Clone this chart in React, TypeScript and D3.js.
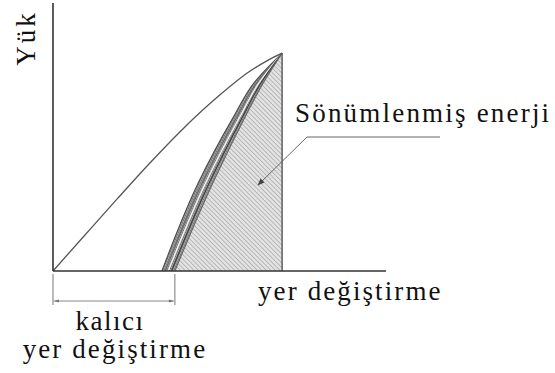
import React from "react";
import * as d3 from "d3";

// Loading branch: displacement vs. load
const loadingDisp = [0, 0.9, 1.92, 2.91, 3.9, 4.92, 5.92, 6.45, 6.88];
const loadingLoad = [0, 12.6, 26.8, 40.3, 53.0, 64.7, 74.6, 78.6, 81.3];

// Unloading / reloading cycles, sampled at shared load levels
const cycleLoads = [0, 32.8, 57.5, 70.1, 81.3];
const cycleA = [3.27, 4.36, 5.42, 6.03, 6.88];
const cycleB = [3.37, 4.48, 5.52, 6.11, 6.88];
const cycleC = [3.46, 4.58, 5.61, 6.18, 6.88];
const cycleD = [3.56, 4.69, 5.69, 6.24, 6.88];
const cycleE = [3.66, 4.8, 5.77, 6.31, 6.88];
const cycles = [cycleA, cycleB, cycleC, cycleD, cycleE];

const peakDisp = 6.88;
const peakLoad = 81.3;
const residualDisp = 3.66;
const axisMaxDisp = 10;
const axisMaxLoad = 100;

const yAxisLabel = "Yük";
const xAxisLabel = "yer değiştirme";
const energyLabel = "Sönümlenmiş enerji";
const residualLabel = ["kalıcı", "yer değiştirme"];

const FONT = "Liberation Serif";

function Label(props: {
  x?: number;
  y?: number;
  transform?: string;
  anchor?: "start" | "middle";
  spacing: number;
  children: string;
}) {
  return (
    <text
      x={props.x}
      y={props.y}
      transform={props.transform}
      textAnchor={props.anchor ?? "start"}
      fontFamily={FONT}
      fontSize={27}
      fill="#111"
      style={{ fontFamily: FONT, fontSize: "27px", letterSpacing: `${props.spacing}px` }}
    >
      {props.children}
    </text>
  );
}

export default function App() {
  const x = d3.scaleLinear().domain([0, axisMaxDisp]).range([53, 386]);
  const y = d3.scaleLinear().domain([0, axisMaxLoad]).range([271, 3]);

  const loadingLine = d3
    .line<number>()
    .x((_, i) => x(loadingDisp[i]))
    .y((d) => y(d))
    .curve(d3.curveMonotoneX)(loadingLoad) as string;

  const cycleLine = (disp: number[]) =>
    d3
      .line<number>()
      .x((_, i) => x(disp[i]))
      .y((d) => y(d))
      .curve(d3.curveMonotoneY)(cycleLoads) as string;

  const bandArea = d3
    .area<number>()
    .y((d) => y(d))
    .x0((_, i) => x(cycleA[i]))
    .x1((_, i) => x(cycleE[i]))
    .curve(d3.curveMonotoneY)(cycleLoads) as string;

  const energyArea = d3
    .area<number>()
    .y((d) => y(d))
    .x0((_, i) => x(cycleE[i]))
    .x1(() => x(peakDisp))
    .curve(d3.curveMonotoneY)(cycleLoads) as string;

  const x0 = x(0);
  const y0 = y(0);
  const xRes = x(residualDisp);
  const bracketY = 301;
  const labelCenter = (x0 + xRes) / 2;

  const cycleStroke = ["#4a4a4a", "#6a6a6a", "#f4f4f4", "#3c3c3c", "#666"];

  return (
    <svg
      width={555}
      height={373}
      fontFamily={FONT}
      style={{ position: "absolute", left: 0, top: 0, background: "#fff" }}
    >
      <defs>
        <pattern
          id="hatchLight"
          width={3.2}
          height={3.2}
          patternUnits="userSpaceOnUse"
          patternTransform="rotate(-45)"
        >
          <rect width={3.2} height={3.2} fill="#e2e2e2" />
          <line x1={0} y1={0} x2={0} y2={3.2} stroke="#999" strokeWidth={1.1} />
        </pattern>
        <pattern
          id="hatchDark"
          width={2.4}
          height={2.4}
          patternUnits="userSpaceOnUse"
          patternTransform="rotate(-45)"
        >
          <rect width={2.4} height={2.4} fill="#a0a0a0" />
          <line x1={0} y1={0} x2={0} y2={2.4} stroke="#555" strokeWidth={1} />
        </pattern>
        <marker
          id="arrowTip"
          viewBox="0 0 10 10"
          refX={9}
          refY={5}
          markerWidth={9}
          markerHeight={7}
          markerUnits="userSpaceOnUse"
          orient="auto"
        >
          <path d="M0,1 L10,5 L0,9 Z" fill="#444" />
        </marker>
        <marker
          id="bracketTip"
          viewBox="0 0 10 10"
          refX={10}
          refY={5}
          markerWidth={12}
          markerHeight={5}
          markerUnits="userSpaceOnUse"
          orient="auto-start-reverse"
        >
          <path d="M0,2 L10,5 L0,8 Z" fill="#777" />
        </marker>
      </defs>

      {/* dissipated energy region */}
      <path d={energyArea} fill="url(#hatchLight)" stroke="none" />
      <path d={bandArea} fill="url(#hatchDark)" stroke="none" />

      {/* unloading / reloading cycles */}
      {cycles.map((c, i) => (
        <path
          key={i}
          d={cycleLine(c)}
          fill="none"
          stroke={cycleStroke[i]}
          strokeWidth={i === 2 ? 1.3 : 1.1}
        />
      ))}

      {/* peak vertical */}
      <line
        x1={x(peakDisp)}
        x2={x(peakDisp)}
        y1={y(peakLoad)}
        y2={y0}
        stroke="#555"
        strokeWidth={1.4}
      />

      {/* loading curve */}
      <path d={loadingLine} fill="none" stroke="#555" strokeWidth={1.3} />

      {/* axes */}
      <line x1={x0} x2={x0} y1={y(axisMaxLoad)} y2={y0} stroke="#333" strokeWidth={1.6} />
      <line x1={x0} x2={x(axisMaxDisp)} y1={y0} y2={y0} stroke="#333" strokeWidth={1.6} />

      {/* residual displacement bracket */}
      <line x1={x0} x2={x0} y1={y0 + 3} y2={bracketY + 4} stroke="#777" strokeWidth={1} />
      <line x1={xRes} x2={xRes} y1={y0 + 3} y2={bracketY + 4} stroke="#777" strokeWidth={1} />
      <line
        x1={x0 + 1}
        x2={xRes - 1}
        y1={bracketY}
        y2={bracketY}
        stroke="#888"
        strokeWidth={1}
        markerStart="url(#bracketTip)"
        markerEnd="url(#bracketTip)"
      />

      {/* leader for the energy label */}
      <polyline
        points={`440,137 307,137 258,185`}
        fill="none"
        stroke="#666"
        strokeWidth={1}
        markerEnd="url(#arrowTip)"
      />

      <Label transform="translate(35,38) rotate(-90)" anchor="middle" spacing={3}>
        {yAxisLabel}
      </Label>
      <Label x={258} y={300} spacing={2.1}>
        {xAxisLabel}
      </Label>
      <Label x={295} y={122} spacing={2.2}>
        {energyLabel}
      </Label>
      <Label x={labelCenter - 4} y={330} anchor="middle" spacing={1.5}>
        {residualLabel[0]}
      </Label>
      <Label x={labelCenter + 1} y={358} anchor="middle" spacing={2.1}>
        {residualLabel[1]}
      </Label>
    </svg>
  );
}
